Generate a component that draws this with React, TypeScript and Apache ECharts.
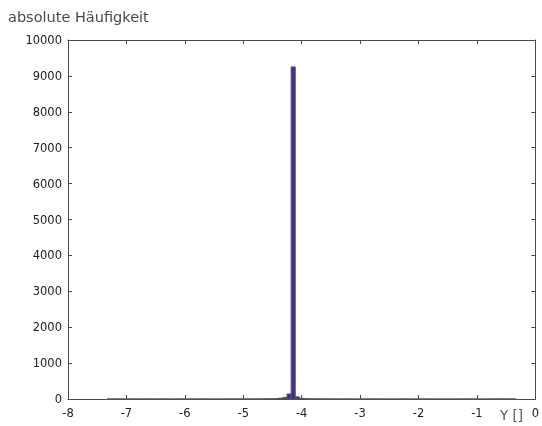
import React, { useEffect, useRef } from "react";
import * as echarts from "echarts";

// Histogram bins: left edges start at binStart, each binWidth wide
const binStart = -7.33;
const binWidth = 0.07;
// counts per bin (100 bins, from -7.33 to -0.33)
const counts = [
  0, 0, 1, 0, 0, 0, 1, 0, 0, 0,
  0, 0, 0, 1, 0, 0, 0, 0, 1, 0,
  0, 0, 0, 0, 1, 0, 0, 0, 0, 0,
  1, 0, 0, 0, 2, 0, 1, 2, 3, 4,
  6, 10, 25, 45, 140, 9250, 60, 20, 8, 4,
  3, 2, 1, 1, 0, 1, 0, 0, 0, 1,
  0, 0, 0, 0, 1, 0, 0, 0, 0, 0,
  0, 0, 1, 0, 0, 0, 0, 0, 0, 0,
  0, 0, 0, 0, 0, 0, 0, 0, 0, 0,
  0, 0, 0, 0, 1, 0, 2, 1, 0, 0,
];

const xTicks = [-8, -7, -6, -5, -4, -3, -2, -1, 0];
const yTicks = [0, 1000, 2000, 3000, 4000, 5000, 6000, 7000, 8000, 9000, 10000];
const yLabel = "absolute Häufigkeit";
const xLabel = "Y []";

const FONT = "DejaVu Sans";
const AXIS = "#4a4a4a";

export default function App() {
  const ref = useRef<HTMLDivElement>(null);
  useEffect(() => {
    if (!ref.current) return;
    const chart = echarts.init(ref.current, null, { renderer: "svg" });
    const data = counts.map((c, i) => [
      binStart + i * binWidth,
      binStart + (i + 1) * binWidth,
      c,
    ]);
    const axisCommon = {
      axisLine: { show: true, onZero: false, lineStyle: { color: AXIS, width: 1 } },
      axisTick: { show: true, inside: true, length: 4, lineStyle: { color: AXIS } },
      splitLine: { show: false },
    };
    chart.setOption({
      animation: false,
      textStyle: { fontFamily: FONT },
      grid: { left: 68, right: 5, top: 40, bottom: 27, containLabel: false },
      xAxis: [
        {
          type: "value",
          min: xTicks[0],
          max: xTicks[xTicks.length - 1],
          interval: 1,
          position: "bottom",
          ...axisCommon,
          axisLabel: { color: "#222", fontSize: 11.5, fontFamily: FONT, margin: 8 },
        },
        {
          type: "value",
          min: xTicks[0],
          max: xTicks[xTicks.length - 1],
          interval: 1,
          position: "top",
          ...axisCommon,
          axisLabel: { show: false },
        },
      ],
      yAxis: [
        {
          type: "value",
          min: yTicks[0],
          max: yTicks[yTicks.length - 1],
          interval: 1000,
          position: "left",
          ...axisCommon,
          axisLabel: {
            color: "#222",
            fontSize: 11.5,
            fontFamily: FONT,
            margin: 6,
            formatter: (v: number) => String(v),
          },
        },
        {
          type: "value",
          min: yTicks[0],
          max: yTicks[yTicks.length - 1],
          interval: 1000,
          position: "right",
          ...axisCommon,
          axisLabel: { show: false },
        },
      ],
      series: [
        {
          type: "custom",
          xAxisIndex: 0,
          yAxisIndex: 0,
          encode: { x: [0, 1], y: 2 },
          data,
          renderItem: (params: any, api: any) => {
            const p0 = api.coord([api.value(0), api.value(2)]);
            const p1 = api.coord([api.value(1), 0]);
            return {
              type: "rect",
              shape: {
                x: p0[0],
                y: p0[1],
                width: p1[0] - p0[0],
                height: p1[1] - p0[1],
              },
              style: {
                fill: "#3a2fa0",
                stroke: "#555",
                lineWidth: 1,
              },
            };
          },
        },
      ],
      graphic: [
        {
          type: "text",
          left: 8,
          top: 9,
          style: { text: yLabel, fill: "#4a4a4a", font: `14.5px "${FONT}"` },
        },
        {
          type: "text",
          left: 500,
          top: 408,
          style: { text: xLabel, fill: "#555", font: `13.5px "${FONT}"` },
        },
      ],
    });
    return () => chart.dispose();
  }, []);
  return (
    <div
      ref={ref}
      style={{ position: "fixed", left: 0, top: 0, width: 542, height: 426 }}
    />
  );
}
